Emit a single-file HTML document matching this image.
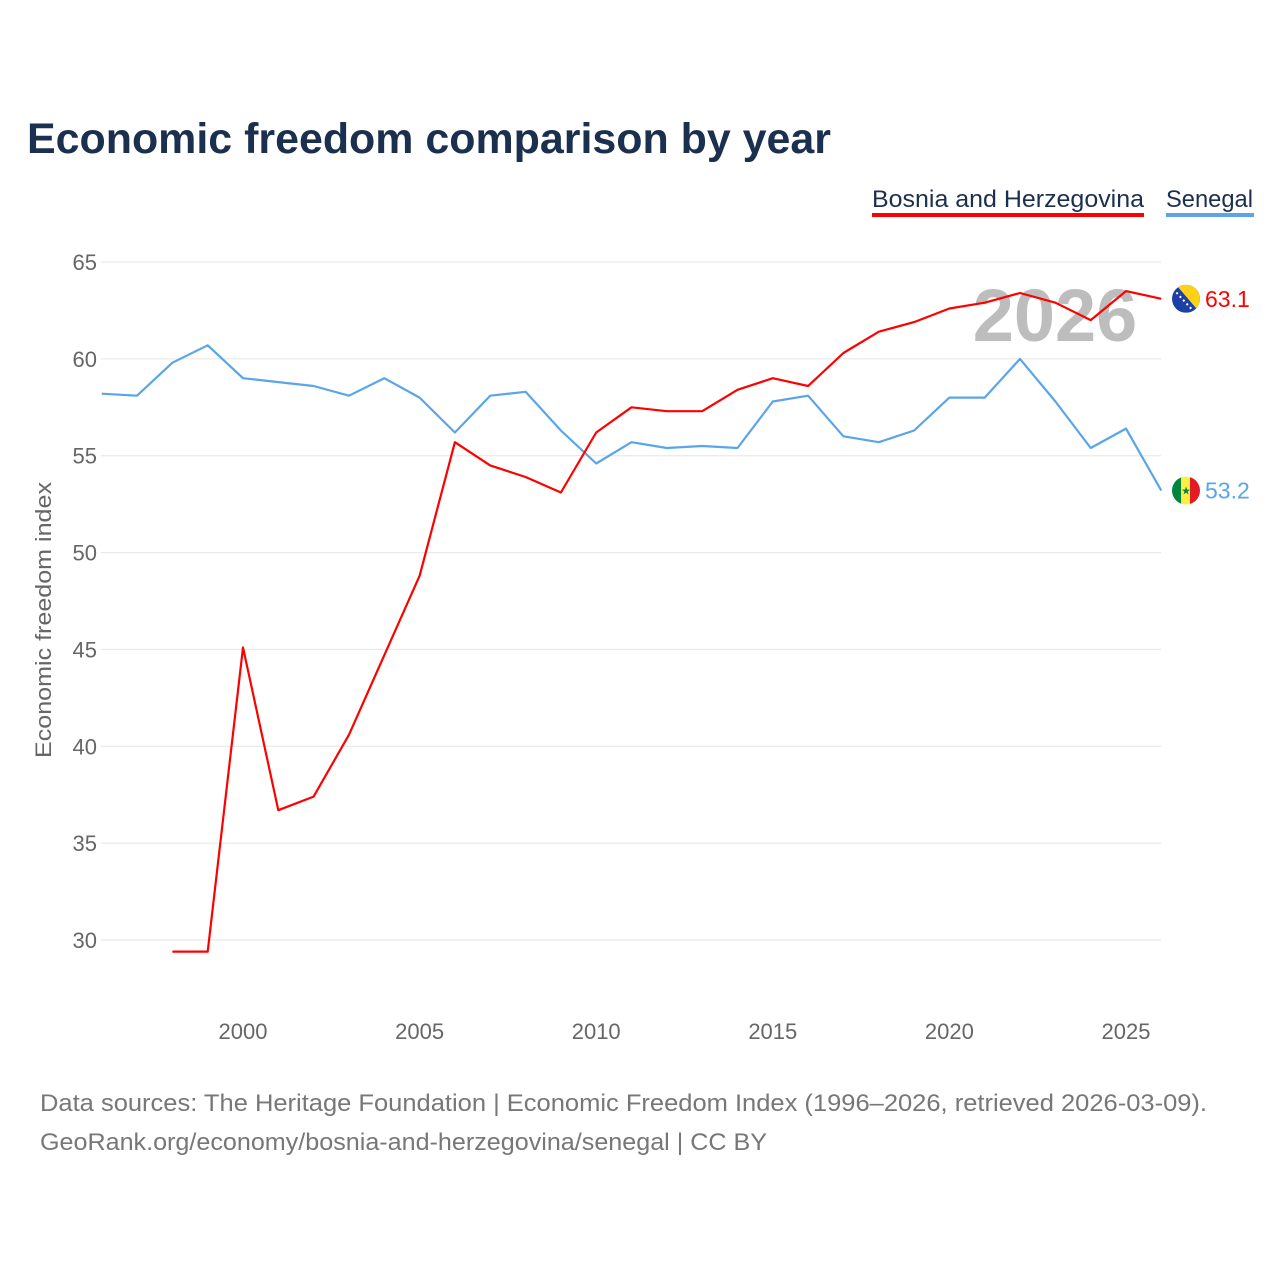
<!DOCTYPE html>
<html><head><meta charset="utf-8"><style>
body{margin:0;background:#fff;font-family:"Liberation Sans",sans-serif;}
</style></head><body>
<svg width="1280" height="1280" xmlns="http://www.w3.org/2000/svg" font-family="Liberation Sans, sans-serif">
<text x="27" y="153" font-size="43" font-weight="bold" fill="#1b2f4f" textLength="804" lengthAdjust="spacingAndGlyphs">Economic freedom comparison by year</text>
<g>
<text x="872" y="207" font-size="24" fill="#1b2f4f" textLength="272" lengthAdjust="spacingAndGlyphs">Bosnia and Herzegovina</text>
<rect x="872" y="213" width="272" height="4" fill="#f00"/></g>
<g>
<text x="1166" y="207" font-size="24" fill="#1b2f4f" textLength="87" lengthAdjust="spacingAndGlyphs">Senegal</text>
<rect x="1166" y="213" width="88" height="4" fill="#5aa5ea"/></g>
<g id="grid"></g>
<g id="yticks"></g>
<g id="xticks"></g>
<text x="1055" y="341" font-size="74" font-weight="bold" fill="#bdbdbd" text-anchor="middle">2026</text>
<text transform="translate(51,620) rotate(-90)" font-size="22" fill="#666" text-anchor="middle" textLength="276" lengthAdjust="spacingAndGlyphs">Economic freedom index</text>
<g id="series"></g>
<text x="40" y="1111" font-size="24" fill="#777" textLength="1167" lengthAdjust="spacingAndGlyphs">Data sources: The Heritage Foundation | Economic Freedom Index (1996–2026, retrieved 2026-03-09).</text>
<text x="40" y="1150" font-size="24" fill="#777" textLength="727" lengthAdjust="spacingAndGlyphs">GeoRank.org/economy/bosnia-and-herzegovina/senegal | CC BY</text>
</svg>
<script>
const years=[1996,1997,1998,1999,2000,2001,2002,2003,2004,2005,2006,2007,2008,2009,2010,2011,2012,2013,2014,2015,2016,2017,2018,2019,2020,2021,2022,2023,2024,2025,2026];
const bosnia=[null,null,29.4,29.4,45.1,36.7,37.4,40.6,44.7,48.8,55.7,54.5,53.9,53.1,56.2,57.5,57.3,57.3,58.4,59.0,58.6,60.3,61.4,61.9,62.6,62.9,63.4,62.9,62.0,63.5,63.1];
const senegal=[58.2,58.1,59.8,60.7,59.0,58.8,58.6,58.1,59.0,58.0,56.2,58.1,58.3,56.3,54.6,55.7,55.4,55.5,55.4,57.8,58.1,56.0,55.7,56.3,58.0,58.0,60.0,57.8,55.4,56.4,53.2];
const yTicks=[30,35,40,45,50,55,60,65];
const xTicks=[2000,2005,2010,2015,2020,2025];
const NS="http://www.w3.org/2000/svg";
const X=y=>243+(y-2000)*35.32;
const Y=v=>262+(65-v)*19.371;
function mk(t,a,p){const e=document.createElementNS(NS,t);for(const k in a)e.setAttribute(k,a[k]);p.appendChild(e);return e;}
const grid=document.getElementById('grid'),yt=document.getElementById('yticks'),xt=document.getElementById('xticks'),ser=document.getElementById('series');
yTicks.forEach(v=>{
 const l=mk('line',{x1:101,x2:1161,y1:Y(v),y2:Y(v),stroke:'#e6e6e6','stroke-width':1},grid);
 
 
 const t=mk('text',{x:97,y:Y(v)+8,'font-size':22,fill:'#666','text-anchor':'end'},yt);
 t.textContent=v;
 
 
});
xTicks.forEach(v=>{
 const t=mk('text',{x:X(v),y:1039,'font-size':22,fill:'#666','text-anchor':'middle'},xt);
 t.textContent=v;
 
 
});
function flag(cy,kind,name){
 const g=mk('g',{},ser);
 
 
 const id='clip'+kind;
 const cp=mk('clipPath',{id:id},g);mk('circle',{cx:1186,cy:cy,r:14},cp);
 const h=mk('g',{'clip-path':'url(#'+id+')'},g);
 if(kind==='ba'){
  mk('rect',{x:1172,y:cy-14,width:28,height:28,fill:'#1c3fa8'},h);
  mk('polygon',{points:(1176)+','+(cy-14)+' '+(1200)+','+(cy-14)+' '+(1200)+','+(cy+14),fill:'#fcd116'},h);
  mk('line',{x1:1173,y1:cy-10,x2:1195,y2:cy+14,stroke:'#fff','stroke-width':2,'stroke-dasharray':'2 3'},h);
 }else{
  mk('rect',{x:1172,y:cy-14,width:10,height:28,fill:'#00853f'},h);
  mk('rect',{x:1181,y:cy-14,width:10,height:28,fill:'#fdef42'},h);
  mk('rect',{x:1190,y:cy-14,width:10,height:28,fill:'#e31b23'},h);
  const s=mk('text',{x:1186,y:cy+4,'font-size':11,fill:'#00853f','text-anchor':'middle'},h);s.textContent='★';
 }
}
function line(data,color,name,kind){
 let d='';let pen=false;
 data.forEach((v,i)=>{if(v==null){pen=false;return;}d+=(pen?'L':'M')+X(years[i]).toFixed(1)+','+Y(v).toFixed(1);pen=true;});
 const p=mk('path',{d:d,fill:'none',stroke:color,'stroke-width':2.2,'stroke-linejoin':'round'},ser);
 
 
 const last=data[data.length-1];
 flag(Y(last),kind,name);
 const t=mk('text',{x:1205,y:Y(last)+8,'font-size':23,fill:color},ser);
 t.textContent=last.toFixed(1);
 
 
}
line(senegal,'#5aa5ea','senegal-line','sn');
line(bosnia,'#ff0000','bosnia-line','ba');
</script>
</body></html>
